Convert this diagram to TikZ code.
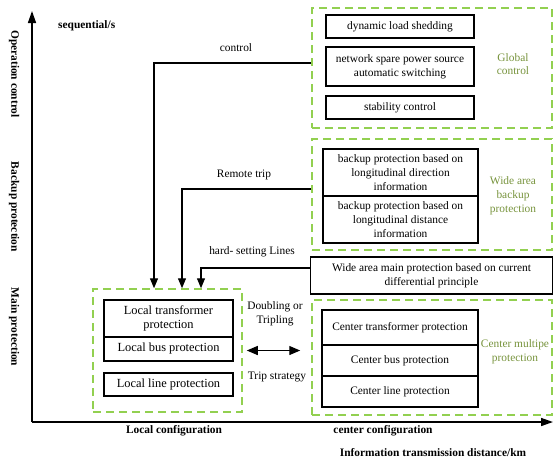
\documentclass[tikz,border=0pt]{standalone}
\usepackage{fontspec}
\setmainfont{Liberation Serif}
\usetikzlibrary{arrows.meta}
\definecolor{dashgreen}{RGB}{146,208,80}
\definecolor{labelgreen}{RGB}{119,147,60}
\tikzset{
  every node/.style={font=\fontsize{11.4}{13.8}\selectfont, inner sep=0pt},
  box/.style={draw, line width=1.1pt, rectangle, align=center},
  lbox/.style={box, font=\fontsize{12.4}{14.5}\selectfont},
  group/.style={draw=dashgreen, line width=1.5pt, dash pattern=on 8pt off 5pt, rectangle},
  grouplabel/.style={text=labelgreen, align=center},
  tip/.style={-{Triangle[length=10pt,width=8pt]}},
  conn/.style={line width=1.3pt, tip},
  axis/.style={line width=1.5pt, -{Triangle[length=12pt,width=8pt]}},
  axislabel/.style={font=\fontsize{11.4}{13.8}\selectfont\bfseries, rotate=-90},
  caption/.style={font=\fontsize{11.4}{13.8}\selectfont\bfseries},
}
\begin{document}
\begin{tikzpicture}[x=1pt,y=-1pt]
\useasboundingbox (0,0) rectangle (553,459);

% axes
\coordinate (origin) at (32,422);
\coordinate (ytop) at (32,11);
\coordinate (xend) at (553,422);
\draw[axis] (origin) -- (ytop);
\draw[axis] (origin) -- (xend);

\node[axislabel] (ylab1) at (14,74) {Operation control};
\node[axislabel] (ylab2) at (14,207) {Backup protection};
\node[axislabel] (ylab3) at (14,327) {Main protection};
\node[caption, anchor=west] (ytitle) at (58,26) {sequential/s};
\node[caption] (xlab1) at (174,431) {Local configuration};
\node[caption] (xlab2) at (383,431) {center configuration};
\node[caption] (xtitle) at (433,453) {Information transmission distance/km};

% global control group
\node[group, minimum width=240pt, minimum height=120pt] (gc) at (432,68) {};
\node[box, minimum width=148pt, minimum height=23pt] (dls) at (400,26.5) {dynamic load shedding};
\node[box, minimum width=148pt, minimum height=39pt] (nsp) at (400,66.5) {network spare power source\\automatic switching};
\node[box, minimum width=148pt, minimum height=23pt] (stc) at (400,107.5) {stability control};
\node[grouplabel] (gcl) at (513,64) {Global\\control};

% wide area backup group
\node[group, minimum width=240pt, minimum height=111pt] (wb) at (432,194.5) {};
\node[box, minimum width=155pt, minimum height=47pt] (bdir) at (400.5,172.5) {backup protection based on\\longitudinal direction\\information};
\node[box, minimum width=155pt, minimum height=47pt] (bdist) at (400.5,219.5) {backup protection based on\\longitudinal distance\\information};
\node[grouplabel] (wbl) at (513,196) {Wide area\\backup\\protection};

% wide area main protection
\node[box, minimum width=242pt, minimum height=37pt] (wm) at (431.5,275.5) {Wide area main protection based on current\\differential principle};

% center multiple protection group
\node[group, minimum width=240pt, minimum height=115pt] (cm) at (432,357.5) {};
\node[box, minimum width=156pt, minimum height=35pt] (ctp) at (400,327.5) {Center transformer protection};
\node[box, minimum width=156pt, minimum height=31pt] (cbp) at (400,360.5) {Center bus protection};
\node[box, minimum width=156pt, minimum height=31pt] (clp) at (400,391.5) {Center line protection};
\node[grouplabel] (cml) at (515,352) {Center multipe\\protection};

% local configuration group
\node[group, minimum width=149pt, minimum height=123pt] (lc) at (167.5,350.5) {};
\node[lbox, minimum width=129pt, minimum height=37pt] (ltp) at (168.5,318.5) {Local transformer\\protection};
\node[lbox, minimum width=129pt, minimum height=24pt] (lbp) at (168.5,349) {Local bus protection};
\node[lbox, minimum width=129pt, minimum height=23pt] (llp) at (168.5,384.5) {Local line protection};

% connectors into the local group
\draw[conn] ([yshift=5pt]gc.west) -| ([xshift=-13.5pt]lc.north);
\draw[conn] ([yshift=5.5pt]wb.west) -| ([xshift=14.5pt]lc.north);
\draw[conn] ([yshift=7.5pt]wm.west) -| ([xshift=33.5pt]lc.north);
\node (lctrl) at (236,48) {control};
\node (lremote) at (244,175) {Remote trip};
\node (lhard) at (252,252) {hard- setting Lines};

% exchange between local and center groups
\draw[line width=1.3pt, {Triangle[length=11pt,width=9pt]}-{Triangle[length=11pt,width=9pt]}] ([xshift=4pt]lc.east) -- ([xshift=-11pt]lc.east -| cm.west);
\node[align=center] (ldbl) at (275,314) {Doubling or\\Tripling};
\node (ltrip) at (277,377) {Trip strategy};
\end{tikzpicture}
\end{document}
